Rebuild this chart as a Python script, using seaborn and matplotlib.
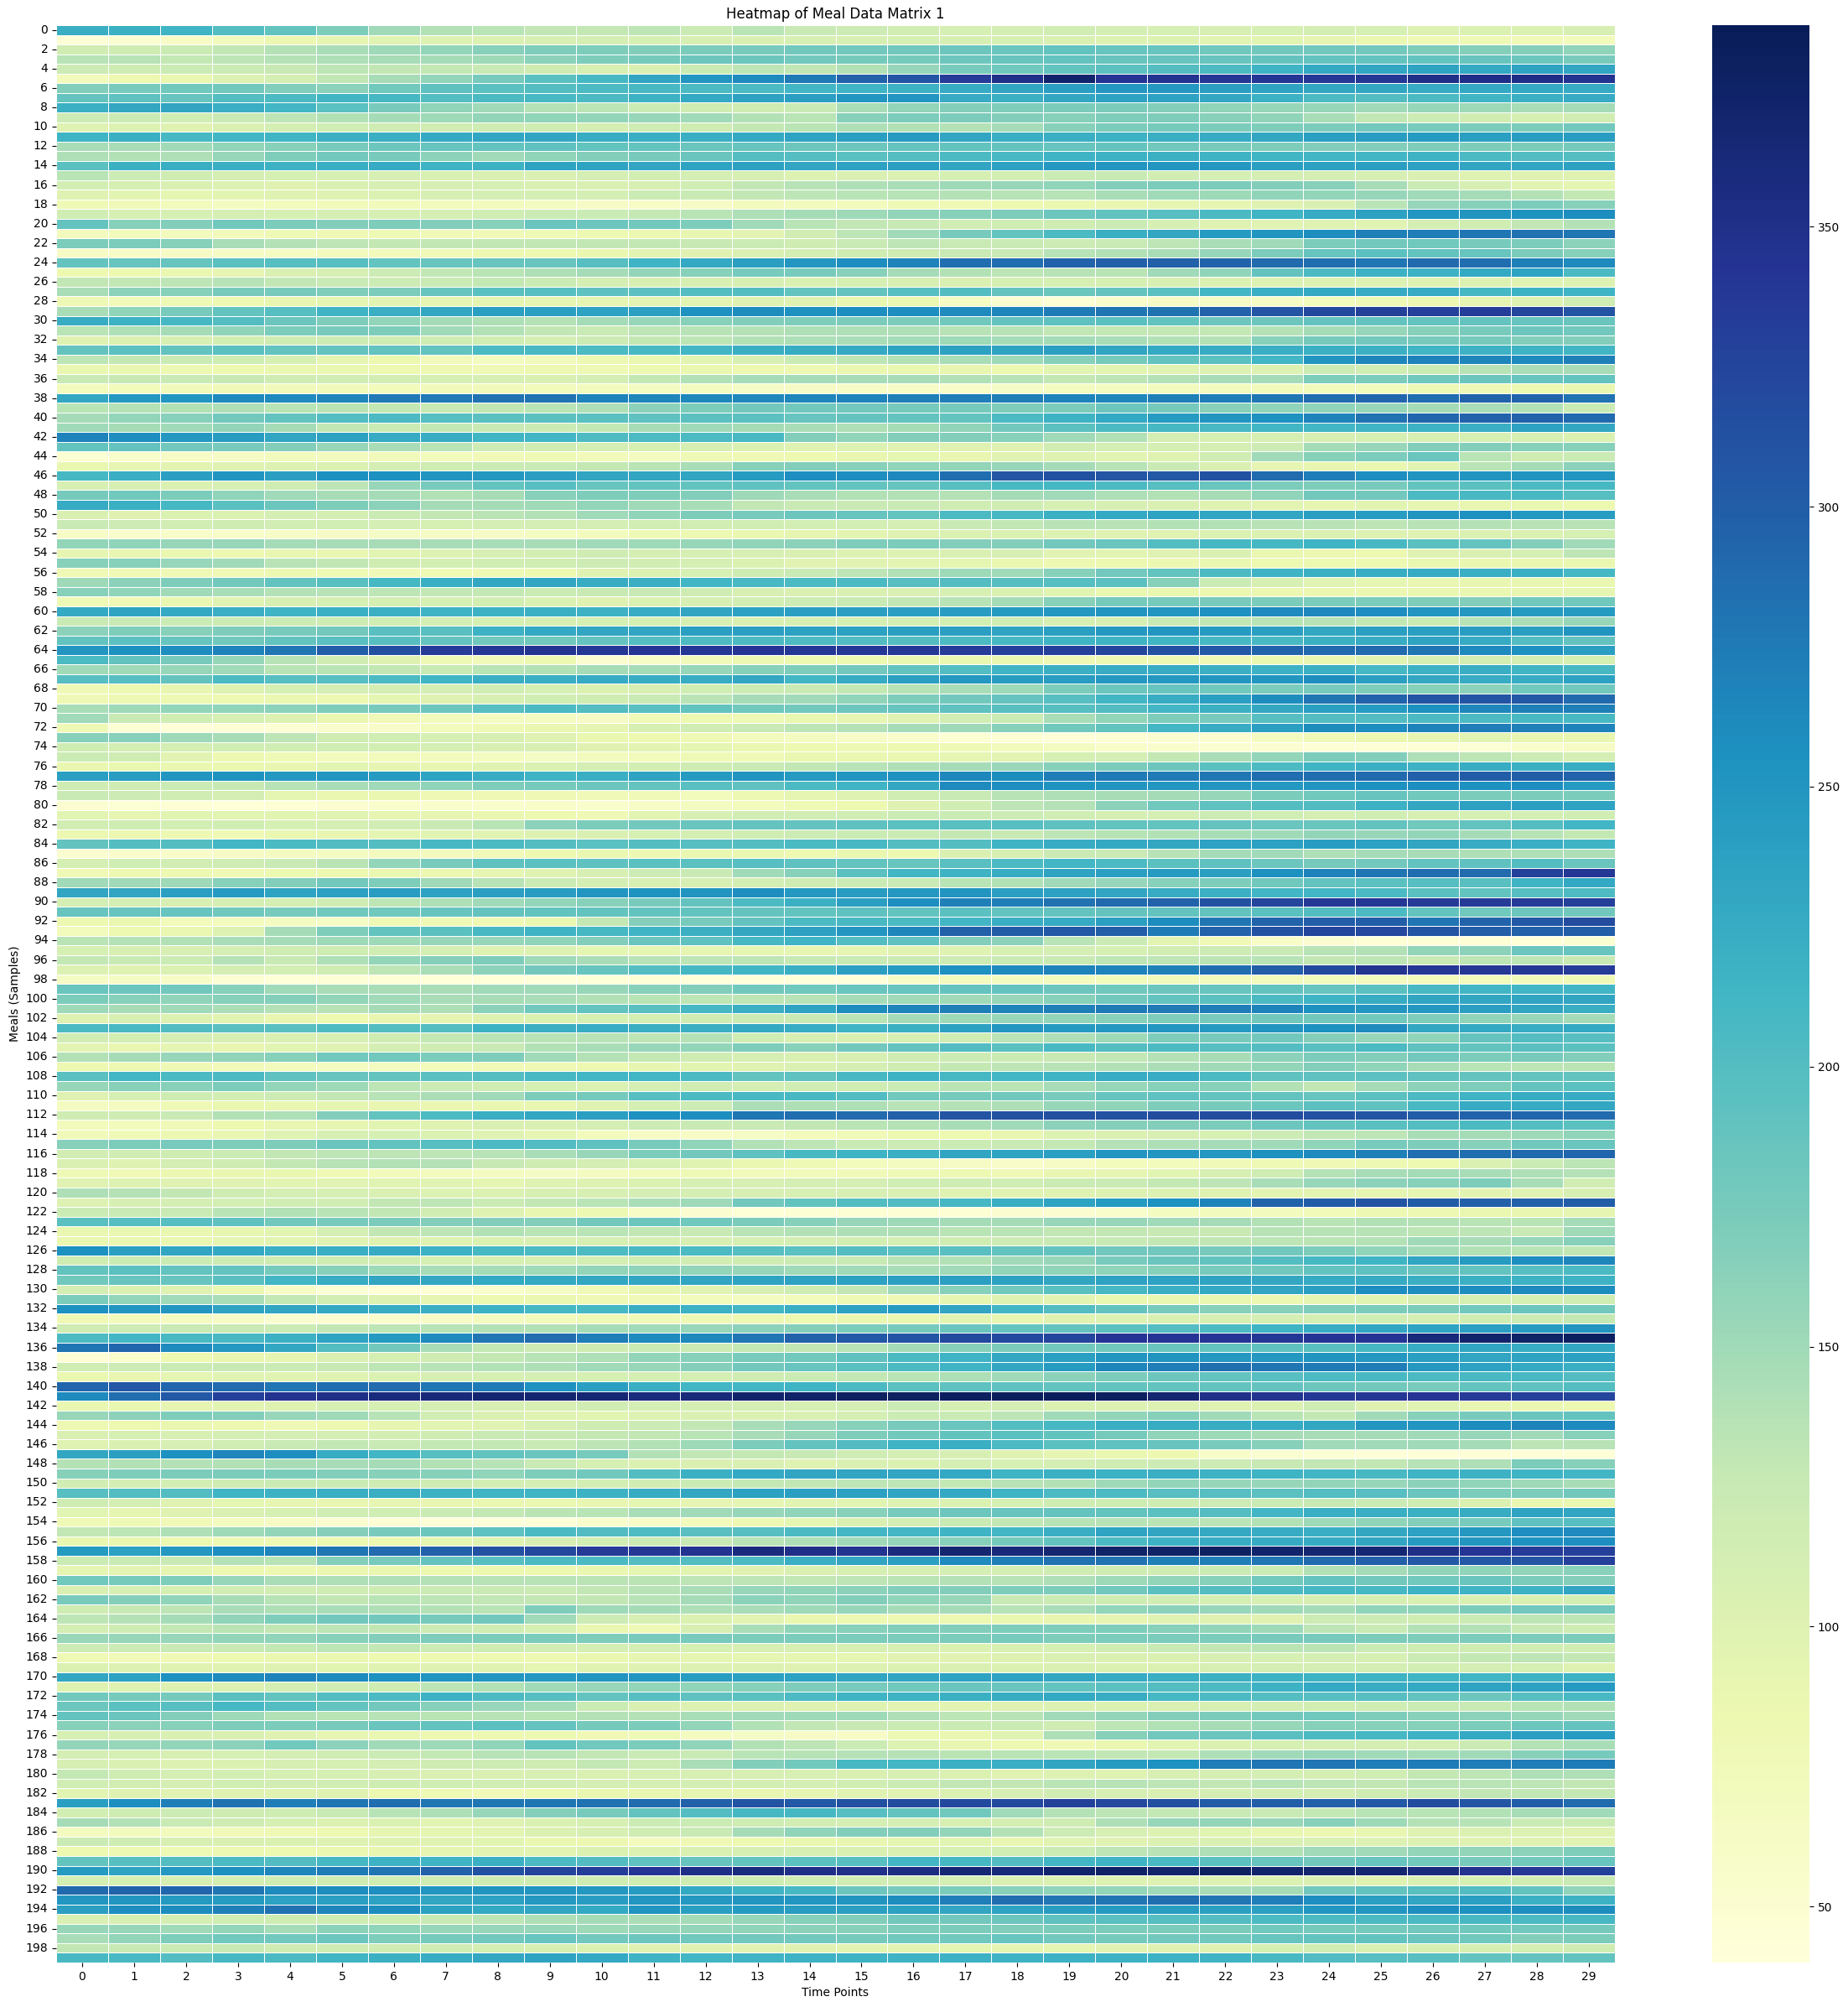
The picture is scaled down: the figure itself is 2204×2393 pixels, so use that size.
import matplotlib
matplotlib.use('Agg')
import matplotlib.pyplot as plt
import seaborn as sns
import numpy as np
import pandas as pd

# values, one block per 25 meals
meals_000 = [
    [222,220,215,200,190,170,150,140,135,130,128,132,122,135,125,120,115,110,112,115,112,110,108,110,112,110,103,104,104,108],
    [45,52,60,70,85,92,98,102,104,108,112,110,108,106,108,108,110,108,110,106,102,102,96,96,92,88,78,78,76,72],
    [115,118,122,130,138,145,152,158,165,170,170,168,172,175,178,178,178,182,185,190,186,186,180,178,178,178,170,166,166,160],
    [136,136,128,132,138,142,146,148,152,162,170,176,182,184,178,176,176,182,186,190,186,186,186,188,190,190,190,186,184,174],
    [120,118,122,122,126,132,130,128,124,118,108,106,122,132,130,140,155,175,180,190,194,200,205,215,228,232,235,228,235,233],
    [72,84,88,102,112,130,146,158,175,195,210,232,250,262,276,296,308,335,350,372,342,345,340,340,338,340,350,352,352,345],
    [168,175,180,178,168,162,180,192,195,200,205,208,206,206,212,215,218,226,232,240,248,248,240,234,230,230,226,228,228,226],
    [188,192,186,200,205,212,210,200,205,208,205,218,228,236,240,250,250,226,220,230,236,236,230,218,205,200,205,214,220,226],
    [220,230,232,222,212,195,175,160,150,138,132,122,118,118,125,145,158,168,170,172,172,168,160,155,155,150,155,152,145,148],
    [120,122,116,125,132,140,148,152,158,160,158,155,150,140,135,165,172,172,168,165,170,170,165,160,145,130,120,115,110,115],
    [100,102,100,105,112,116,118,115,118,118,112,118,118,128,135,142,140,138,148,165,172,176,172,170,172,178,175,172,172,178],
    [215,220,210,212,214,220,222,228,232,232,224,222,222,228,235,240,245,232,222,222,218,222,226,230,240,244,245,240,242,242],
    [145,145,150,158,165,175,182,186,190,192,190,190,185,186,182,182,188,190,188,186,188,178,175,170,168,168,170,170,172,176],
    [142,140,142,155,170,178,175,162,150,160,168,175,185,200,200,195,200,205,208,215,218,220,216,214,212,212,216,206,202,200],
    [195,220,222,222,218,222,226,215,218,235,234,232,234,238,232,236,240,232,238,248,250,250,248,240,238,240,238,232,232,238],
    [135,120,118,112,110,110,108,106,106,105,112,114,112,108,102,106,104,110,114,122,125,115,112,112,112,108,106,100,100,100],
    [114,110,106,102,100,106,108,108,110,106,106,108,116,130,136,142,145,152,155,160,168,172,172,168,165,146,122,108,96,94],
    [100,96,94,96,100,100,104,108,112,112,112,122,125,130,132,135,136,138,136,136,145,150,152,160,158,155,150,148,138,128],
    [78,76,72,68,72,74,74,70,70,68,62,60,62,70,70,72,78,80,84,88,90,92,92,100,105,135,155,165,172,165],
    [116,110,110,112,110,112,110,112,116,122,122,128,135,142,148,152,158,165,170,182,190,198,205,215,226,238,250,252,254,258],
    [190,165,168,178,172,168,170,168,165,185,182,178,170,150,135,130,126,115,118,118,122,110,100,98,100,98,112,118,130,138],
    [70,72,72,74,78,80,78,76,76,78,82,85,90,95,115,132,150,175,190,205,222,230,245,252,258,270,272,278,282,280],
    [172,172,165,145,138,132,128,130,130,130,130,128,126,122,118,125,132,125,125,120,125,132,145,150,172,178,180,175,172,162],
    [62,60,62,62,65,70,74,76,82,84,86,96,100,106,112,118,118,125,125,136,140,145,155,172,186,195,190,186,172,165],
    [188,186,186,195,198,198,190,186,186,186,198,215,228,240,250,258,268,285,285,296,298,298,295,290,285,280,290,285,270,262],
]
meals_025 = [
    [84,84,88,92,106,110,120,130,135,142,148,158,165,175,174,165,148,140,132,136,135,150,160,188,205,218,218,228,235,205],
    [130,130,132,136,130,124,120,125,128,122,112,108,108,108,106,110,108,106,110,110,110,108,104,102,102,102,100,102,98,102],
    [145,162,165,175,175,170,172,186,195,198,192,194,200,200,190,188,198,200,188,184,188,195,212,222,228,226,226,210,218,215],
    [78,75,78,82,90,94,96,92,92,92,92,96,96,100,100,88,85,65,52,48,56,62,64,64,72,78,85,92,100,116],
    [145,160,175,190,198,215,222,230,240,240,236,240,255,260,255,258,258,262,265,275,280,282,296,308,320,328,330,332,325,310],
    [225,218,210,200,182,170,158,148,142,138,148,155,165,168,170,172,172,180,188,192,195,190,182,182,188,190,190,188,186,185],
    [135,142,148,160,172,175,170,150,140,130,125,132,136,138,142,142,142,136,136,130,128,128,128,138,148,155,165,175,182,178],
    [100,104,108,114,118,120,118,118,116,112,120,128,132,140,142,145,148,152,148,148,145,140,138,165,176,178,174,176,168,168],
    [188,195,190,195,190,190,190,190,205,208,205,208,212,222,225,228,235,238,235,240,232,228,226,222,220,220,214,218,216,212],
    [132,128,122,118,110,92,84,74,68,74,82,88,96,108,122,132,140,145,152,165,176,190,195,212,250,265,268,265,262,270],
    [86,86,82,84,86,86,84,82,80,82,80,84,86,84,82,86,88,90,84,96,96,98,102,102,120,116,122,136,145,146],
    [124,126,124,126,118,116,114,110,108,106,112,128,140,148,148,146,146,140,136,128,132,138,146,148,170,172,180,182,186,190],
    [70,72,74,76,74,74,72,74,74,72,70,66,66,64,62,60,60,58,64,68,68,70,70,72,72,72,78,80,84,86],
    [230,248,250,262,262,266,276,276,282,282,268,265,264,264,265,268,270,272,272,268,265,270,272,278,286,292,286,295,296,282],
    [135,138,140,142,135,134,128,125,130,135,142,162,172,178,180,178,176,176,170,172,182,176,165,160,160,155,148,145,140,122],
    [148,158,165,178,190,200,205,198,195,195,195,192,195,195,186,188,190,190,205,216,228,245,252,256,268,282,292,296,296,290],
    [150,148,150,158,148,130,122,128,125,122,128,146,150,148,145,142,148,160,178,195,206,210,208,212,212,215,218,222,236,230],
    [268,258,248,244,232,238,226,224,214,212,204,206,205,208,168,160,168,168,165,150,140,112,110,110,108,110,108,110,108,104],
    [190,188,178,175,168,155,145,135,120,118,112,110,108,104,100,102,100,100,100,115,112,112,112,120,148,155,168,168,165,165],
    [47,55,60,62,70,70,74,72,76,78,74,68,78,78,84,90,94,90,98,100,96,100,118,150,165,172,185,135,118,122],
    [88,92,95,100,102,104,112,118,122,124,128,135,145,165,168,165,160,158,156,148,136,124,105,92,90,88,98,135,148,162],
    [210,222,240,252,240,256,255,252,248,240,232,232,232,245,258,258,264,285,308,312,308,306,312,288,272,258,252,252,252,250],
    [108,108,104,110,118,132,156,175,190,198,186,190,190,192,190,190,186,198,208,210,205,198,185,172,170,175,190,195,205,210],
    [176,180,172,160,150,146,148,140,146,165,170,170,168,152,145,140,140,138,148,150,142,140,146,160,178,178,205,208,208,198],
    [226,220,210,195,182,170,162,148,148,150,158,150,145,130,125,125,125,118,118,110,108,105,100,95,92,96,92,90,86,84],
]
meals_050 = [
    [105,100,104,104,112,112,122,130,134,140,150,160,170,175,182,186,190,205,210,220,228,235,232,232,240,242,252,255,248,242],
    [125,120,115,118,115,116,112,110,112,112,112,115,115,116,114,114,112,124,130,136,136,140,140,136,136,132,136,138,136,136],
    [60,55,58,58,60,62,64,62,62,66,70,78,82,86,92,95,100,104,104,102,100,100,104,104,104,102,100,104,104,110],
    [158,160,155,155,148,146,146,146,145,146,150,152,156,160,162,170,172,168,168,178,185,200,210,210,215,208,195,188,168,150],
    [92,90,88,84,90,90,96,102,108,114,118,112,110,108,106,102,102,105,108,98,96,100,106,88,85,84,100,105,110,132],
    [165,165,155,150,136,130,118,114,116,116,120,115,112,104,98,98,96,94,88,82,84,85,86,84,84,84,86,88,88,86],
    [80,80,80,80,82,78,76,78,80,84,100,104,110,118,125,132,140,152,150,165,178,190,205,216,220,225,226,222,222,210],
    [152,162,170,178,190,196,210,222,230,232,225,222,212,208,205,205,198,200,198,198,194,165,122,108,98,94,90,90,90,88],
    [165,160,150,145,138,136,132,130,128,122,126,126,118,108,106,106,106,108,104,96,86,86,85,85,85,85,86,86,90,92],
    [78,80,88,98,108,110,112,110,114,104,100,104,108,114,120,124,130,136,148,165,176,176,175,172,172,172,170,168,180,180],
    [228,234,228,222,215,220,220,215,218,220,218,225,232,238,240,240,240,242,245,248,252,250,255,262,264,258,250,248,245,245],
    [125,125,122,120,120,118,116,112,110,108,110,110,108,106,108,110,112,114,116,108,108,125,130,135,136,128,122,136,144,156],
    [162,170,165,170,175,178,196,196,218,228,232,232,240,240,238,238,240,240,234,240,248,250,245,240,230,240,240,242,240,252],
    [190,194,186,180,190,196,198,188,180,180,188,200,204,205,204,202,200,205,210,215,216,214,210,208,220,225,235,226,200,188],
    [250,256,258,268,278,300,315,335,340,345,340,342,340,342,340,340,338,335,330,330,325,312,305,295,290,290,280,262,255,240],
    [205,190,175,155,136,115,100,78,74,84,50,62,74,82,84,84,86,88,86,80,82,82,80,86,90,98,108,112,112,110],
    [150,150,155,150,135,135,130,125,135,140,148,148,155,165,170,178,190,200,215,220,224,225,220,218,220,210,218,222,214,208],
    [198,198,188,205,198,198,205,214,222,222,226,225,225,230,212,226,240,248,242,244,248,248,250,250,258,240,230,224,224,236],
    [80,84,90,100,110,112,112,112,116,110,104,108,116,120,125,128,136,145,152,172,184,186,180,172,175,170,165,162,180,178],
    [80,82,82,84,88,84,94,100,108,116,118,125,135,148,150,160,170,178,188,198,212,225,240,260,280,296,310,310,306,290],
    [145,152,158,160,162,170,175,182,198,205,200,196,190,180,178,182,186,192,196,198,202,212,220,230,240,245,255,265,270,270],
    [150,125,116,110,102,88,76,70,66,66,62,76,84,78,88,92,100,116,122,145,158,170,175,198,200,202,205,205,208,208],
    [78,48,44,46,48,56,58,72,80,86,92,108,115,125,132,138,148,152,165,180,190,212,225,240,260,258,268,272,270,268],
    [165,165,152,146,132,118,116,110,108,100,88,84,80,70,66,60,56,48,48,44,48,52,50,68,76,85,92,96,90,90],
    [118,112,112,116,116,116,114,112,108,108,100,96,94,88,84,82,84,78,72,66,58,54,52,50,46,46,46,48,56,62],
]
meals_075 = [
    [122,118,98,84,78,70,72,70,66,64,70,72,78,80,86,86,86,92,96,110,112,128,145,158,172,168,142,132,120,112],
    [88,88,88,88,90,96,92,90,98,104,112,114,118,124,130,136,142,148,154,165,172,182,195,205,215,222,218,225,220,225],
    [240,244,250,254,248,250,245,235,225,215,222,235,245,252,246,250,256,264,260,272,276,276,278,285,285,290,298,302,300,296],
    [118,118,122,126,136,145,150,160,170,176,182,190,196,192,205,215,230,262,258,254,252,250,250,248,252,256,258,256,258,245],
    [124,120,116,112,94,88,86,80,80,80,76,76,72,82,92,100,116,124,136,142,146,148,155,172,180,186,180,172,172,172],
    [50,48,46,44,46,50,56,56,56,58,54,60,66,72,78,84,100,116,132,138,162,180,192,200,202,218,230,238,240,235],
    [96,92,96,96,96,98,92,92,86,84,80,96,108,115,115,116,122,122,120,116,112,112,120,116,112,116,108,110,112,116],
    [115,118,114,116,110,112,115,124,135,162,172,178,185,188,188,192,195,196,198,192,190,190,188,185,185,190,180,190,200,212],
    [85,85,82,80,88,90,94,96,96,102,106,110,112,116,120,122,122,128,125,132,136,140,145,150,158,155,158,148,136,128],
    [190,200,200,212,205,202,200,208,205,200,195,200,198,200,205,208,200,200,215,225,228,230,236,238,242,238,232,225,222,215],
    [52,55,58,62,66,68,70,70,76,84,88,82,86,88,84,86,84,106,108,124,124,136,148,150,142,148,146,142,142,142],
    [112,116,115,118,124,134,158,175,192,195,192,195,195,198,192,190,186,196,205,212,205,195,192,182,176,178,190,192,200,185],
    [80,82,84,80,84,84,86,85,92,100,108,120,125,150,165,195,212,216,225,235,240,245,240,255,268,280,285,288,328,340],
    [150,150,152,165,168,178,170,150,136,122,112,108,108,112,118,122,124,135,140,150,155,165,170,180,190,195,198,196,215,228],
    [232,232,240,245,235,238,244,236,240,244,250,254,252,258,248,244,248,252,240,238,232,225,220,212,212,205,195,190,198,204],
    [112,112,108,112,112,118,132,142,150,158,165,175,188,205,220,240,258,270,272,282,290,296,312,325,338,340,335,335,335,330],
    [186,186,186,180,175,180,180,186,188,190,190,190,190,188,190,192,190,195,190,190,188,190,190,195,200,205,190,180,182,178],
    [84,88,72,70,68,64,80,80,80,88,128,166,175,188,205,208,205,212,222,226,240,260,278,295,300,300,280,295,305,318],
    [72,84,88,102,148,170,190,195,208,215,210,215,220,230,238,250,265,298,302,306,300,275,296,312,325,322,310,300,298,300],
    [135,138,140,145,148,152,152,155,155,160,168,185,192,210,215,200,192,168,162,135,122,96,76,58,50,46,46,46,44,52],
    [110,108,108,112,118,118,116,112,100,102,94,94,92,94,92,92,98,100,110,112,110,115,120,125,136,140,158,162,182,186],
    [128,125,122,138,126,142,158,166,170,152,145,136,132,132,126,124,122,120,124,126,132,132,134,136,130,132,124,132,132,126],
    [102,100,104,112,114,118,132,145,162,178,186,200,210,212,222,240,245,255,262,268,268,270,285,300,320,345,340,340,340,335],
    [64,64,60,48,44,46,46,44,44,42,44,46,42,42,42,42,60,70,66,70,72,74,72,72,72,70,72,72,75,78],
    [185,182,178,165,150,145,145,145,150,150,155,165,168,178,180,185,186,188,188,182,180,182,186,190,186,195,208,212,212,212],
]
meals_100 = [
    [172,165,160,165,166,158,150,145,146,145,140,135,132,132,136,148,150,150,155,165,178,190,195,205,215,225,232,230,232,232],
    [152,146,150,144,138,136,148,142,162,180,190,196,210,222,235,260,266,270,266,270,275,276,272,268,255,250,248,240,232,222],
    [100,108,102,96,90,84,90,92,100,104,110,112,118,122,124,135,148,152,155,158,165,170,175,178,178,180,170,160,155,148],
    [205,208,202,196,196,204,200,200,218,222,225,222,222,228,225,215,220,238,250,246,248,250,246,252,255,262,230,228,225,228],
    [115,114,112,108,106,110,118,128,135,136,136,132,138,116,108,105,108,118,135,142,152,170,175,178,166,156,160,188,200,198],
    [95,90,94,90,96,100,112,118,124,140,145,155,158,170,165,178,190,202,195,208,200,205,198,200,196,206,192,190,196,195],
    [140,148,155,160,165,178,178,172,170,150,138,128,118,108,105,108,118,120,122,126,130,138,146,162,172,168,178,172,175,168],
    [84,82,78,74,70,68,66,72,76,80,84,92,96,100,106,112,118,128,132,136,140,144,150,158,168,160,146,135,132,134],
    [195,212,205,205,192,186,190,195,200,210,212,212,205,190,192,208,216,210,212,215,225,225,205,192,192,194,192,188,190,190],
    [155,165,165,172,158,152,132,120,118,110,104,112,115,112,116,118,122,134,134,146,156,165,165,140,130,148,162,170,188,195],
    [100,110,118,114,120,130,136,144,150,172,176,198,206,208,208,202,180,176,178,175,186,192,190,190,186,195,205,215,225,225],
    [68,68,78,86,88,94,90,86,86,90,100,112,120,144,142,142,136,138,142,156,160,170,175,184,194,192,208,226,226,230],
    [118,118,124,140,142,168,190,205,222,230,240,255,258,280,285,290,298,310,312,315,312,318,318,318,312,310,300,296,292,288],
    [72,72,76,84,90,92,96,100,106,106,112,120,124,124,130,135,138,145,150,162,166,168,172,182,190,196,200,205,200,195],
    [76,78,85,90,100,108,110,104,100,92,72,62,60,64,72,76,84,84,90,102,106,108,110,120,130,132,145,148,152,160],
    [165,172,175,170,170,185,190,198,205,202,192,175,160,140,132,125,120,122,124,128,138,142,148,150,160,175,170,165,180,185],
    [115,115,118,122,130,132,132,132,136,145,155,172,178,192,208,215,222,232,235,240,250,250,248,256,262,270,285,285,290,292],
    [106,100,112,118,128,136,140,138,126,118,112,110,98,88,78,70,68,62,58,62,70,72,76,78,80,82,84,105,122,132],
    [78,80,85,88,88,78,74,70,68,64,68,72,78,74,74,76,78,82,80,90,92,96,108,118,138,146,148,145,142,138],
    [100,102,100,100,96,98,98,98,94,100,100,104,108,108,112,112,116,118,116,122,122,128,132,145,155,162,165,170,145,115],
    [142,138,130,118,112,110,106,102,104,108,108,112,112,108,108,108,106,100,98,100,102,102,100,95,95,92,92,95,98,108],
    [102,108,112,112,116,116,130,132,122,130,135,145,152,178,190,200,202,210,222,235,245,255,268,295,302,310,302,298,298,300],
    [122,124,124,135,140,135,130,115,100,90,82,60,50,44,46,46,46,46,50,50,56,66,70,70,75,82,82,88,90,92],
    [195,198,198,192,178,175,172,168,168,168,178,182,180,172,165,155,152,148,148,155,156,150,148,140,135,140,138,135,135,148],
    [88,88,88,90,96,112,130,132,140,135,135,130,125,135,140,142,142,135,135,130,130,126,126,136,136,136,132,132,125,150],
]
meals_125 = [
    [88,88,86,92,95,98,100,100,104,106,110,108,108,108,112,114,112,118,120,125,125,128,130,132,134,138,150,146,155,165],
    [255,240,232,228,222,222,226,218,210,205,204,208,205,198,195,200,195,196,190,188,178,178,175,178,170,160,148,140,135,130],
    [118,122,122,120,118,118,114,110,108,108,112,116,115,118,122,125,135,140,150,155,175,185,190,200,210,215,232,245,258,265],
    [190,195,190,190,176,165,152,146,148,150,158,160,158,155,150,150,145,150,158,160,160,165,175,178,190,192,185,190,198,205],
    [180,186,186,196,212,225,232,230,228,228,230,232,232,234,236,238,240,240,238,232,236,236,234,230,226,226,222,220,218,216],
    [112,104,100,86,60,48,44,44,56,64,76,90,98,108,118,130,150,165,180,195,210,222,228,232,240,258,258,258,262,260],
    [172,158,150,145,128,114,102,92,84,88,80,76,72,68,72,78,80,92,100,95,88,86,88,85,92,96,108,110,110,116],
    [255,250,250,234,232,228,225,222,218,210,210,222,218,212,222,236,245,232,212,200,188,175,165,165,170,172,172,180,185,180],
    [80,72,66,60,52,50,54,60,66,72,78,76,78,82,84,86,88,96,90,100,102,106,108,112,112,116,112,118,120,128],
    [118,120,125,125,122,130,132,136,140,140,148,150,156,162,166,172,176,185,190,190,195,200,205,215,225,232,235,240,245,252],
    [205,212,208,208,220,235,246,262,278,286,272,262,264,280,296,305,310,320,320,325,342,342,342,340,342,342,362,372,375,380],
    [280,292,262,248,230,200,178,145,128,120,118,122,122,128,130,136,148,165,172,178,180,185,190,192,196,210,225,232,225,230],
    [46,56,84,90,92,105,110,118,128,136,142,158,165,175,180,192,205,215,230,240,250,252,248,248,252,248,240,232,235,238],
    [116,120,122,126,122,126,132,136,140,142,150,155,166,178,186,196,205,215,230,245,265,272,284,280,275,272,248,236,228,222],
    [88,90,94,98,98,100,104,108,110,112,110,112,112,118,122,130,135,142,150,162,172,182,190,198,205,208,205,208,208,202],
    [292,305,292,288,280,285,288,280,275,255,240,222,212,212,215,205,195,192,192,190,190,190,190,188,182,178,175,190,192,200],
    [262,285,305,330,345,352,360,362,368,368,366,360,362,372,374,378,378,380,382,382,380,368,350,345,340,340,342,335,330,325],
    [88,86,92,96,100,110,110,112,108,108,115,112,112,112,110,112,122,110,112,104,102,102,100,104,118,100,98,90,88,84],
    [155,162,170,168,155,150,136,116,106,100,96,102,105,104,106,112,122,125,132,150,158,165,150,135,128,150,165,175,185,190],
    [82,84,88,84,80,84,92,96,98,108,118,120,130,145,155,165,175,185,200,210,222,225,225,226,230,250,250,260,268,262],
    [105,110,108,112,112,112,114,118,124,126,128,130,135,145,155,170,180,190,195,190,176,160,152,146,145,148,150,155,150,165],
    [100,106,108,116,125,130,125,128,128,125,132,140,152,172,190,202,216,222,205,195,192,186,175,165,150,150,150,148,132,136],
    [230,240,256,265,258,225,212,198,190,185,175,140,130,128,126,118,112,108,100,92,86,84,58,52,48,44,44,44,44,44],
    [138,140,138,140,146,146,148,140,136,125,110,104,105,106,100,106,104,112,110,112,118,120,120,126,130,130,136,142,172,165],
    [165,170,172,172,172,168,165,165,160,170,180,200,220,228,232,232,232,228,215,220,218,222,218,215,212,208,215,218,215,212],
]
meals_150 = [
    [115,112,114,118,122,122,118,118,114,112,114,115,122,128,130,132,132,128,136,140,152,158,155,155,158,155,162,160,152,145],
    [198,200,200,215,218,222,222,218,215,215,218,225,230,238,240,238,232,228,215,205,205,198,198,195,200,198,185,172,172,178],
    [118,112,100,94,92,90,92,90,86,86,90,94,92,92,96,96,100,104,110,118,118,118,120,122,126,122,118,104,88,88],
    [96,92,100,106,110,116,116,122,128,134,135,145,150,155,160,165,175,182,186,188,190,195,200,212,222,222,220,225,235,232],
    [78,78,76,68,62,50,46,44,42,44,55,60,72,82,94,105,112,124,130,136,136,135,135,140,152,160,168,175,192,198],
    [130,132,142,152,158,166,175,182,192,205,202,204,196,198,205,212,212,215,212,222,235,232,228,225,222,230,238,248,258,262],
    [88,88,84,78,80,84,84,92,98,108,114,120,125,135,142,150,158,165,176,190,205,218,225,226,226,232,245,250,256,258],
    [245,238,248,258,268,280,288,298,312,322,335,340,345,358,352,345,358,368,362,368,375,374,378,372,368,366,352,342,335,330],
    [122,125,125,138,136,166,175,188,198,205,205,200,200,205,222,232,240,262,272,282,282,270,272,280,290,298,305,306,308,330],
    [92,96,92,84,82,85,86,84,84,84,88,94,96,100,106,108,108,112,112,118,118,118,122,122,140,148,158,160,158,164],
    [180,176,170,155,145,142,142,138,136,136,134,134,132,132,130,132,134,138,136,142,152,158,165,180,190,178,180,185,172,166],
    [105,108,110,115,115,118,118,122,124,122,130,136,145,155,160,162,168,168,170,172,180,195,200,206,210,210,216,215,218,232],
    [175,166,160,146,136,130,135,132,130,130,130,136,148,162,160,168,160,155,125,122,118,115,112,108,108,108,106,106,106,112],
    [118,126,132,145,142,145,142,138,135,170,152,148,142,145,152,155,148,148,136,145,158,162,155,150,148,160,160,172,178,178],
    [132,138,148,160,170,178,178,176,178,150,120,108,104,96,88,82,82,82,86,90,92,98,100,100,120,120,116,122,132,132],
    [112,118,128,134,130,132,130,120,116,110,88,78,108,145,160,165,168,168,170,170,170,165,158,152,132,125,140,140,126,118],
    [154,156,156,158,160,165,168,170,172,172,170,175,175,172,172,172,172,172,175,170,172,172,172,175,175,172,170,172,172,172],
    [120,120,125,124,128,132,128,120,118,115,112,112,110,108,108,108,108,104,106,110,118,124,130,134,134,122,118,118,116,116],
    [78,76,80,84,88,86,84,82,82,82,86,92,92,94,94,94,98,98,102,106,106,106,108,110,112,110,122,128,132,128],
    [104,102,98,98,100,96,98,100,98,94,98,100,102,102,100,102,104,106,104,106,104,104,108,112,112,112,114,112,110,100],
    [230,236,255,262,268,262,256,252,250,248,252,250,242,238,236,232,232,235,235,230,226,222,220,218,216,216,214,212,216,218],
    [100,100,102,102,112,116,118,132,140,150,155,158,160,165,170,175,180,185,185,190,195,200,205,218,228,225,228,235,238,246],
    [180,176,176,195,190,200,206,218,205,198,190,198,192,195,205,215,216,220,225,228,225,210,205,200,198,198,190,182,198,208],
    [182,195,198,210,200,190,178,165,155,148,122,106,102,102,100,100,96,96,100,102,104,106,108,112,114,116,122,125,135,140],
    [190,185,168,152,140,135,136,135,136,135,138,138,145,150,152,152,142,132,136,150,158,168,172,178,180,170,165,162,155,150],
]
meals_175 = [
    [165,162,165,170,172,175,185,190,195,188,176,172,158,140,130,126,122,122,122,118,132,140,146,155,165,165,165,172,182,188],
    [110,108,106,106,100,92,86,84,84,82,80,78,66,64,62,60,82,86,98,142,165,178,185,196,205,210,218,228,240,245],
    [158,155,158,162,180,162,150,152,160,190,180,172,160,140,132,122,102,90,84,80,88,96,104,110,112,112,112,122,138,145],
    [112,110,108,110,112,118,122,128,136,136,130,124,125,135,136,138,138,134,135,135,130,128,142,150,155,150,148,150,165,176],
    [108,105,102,104,108,110,112,118,120,118,128,120,145,168,178,208,212,220,222,232,245,256,272,280,278,272,275,272,272,275],
    [128,118,112,114,110,110,108,106,106,108,105,108,108,108,108,106,108,104,100,102,100,108,112,112,112,116,128,132,142,142],
    [116,115,112,116,115,116,118,116,116,115,112,112,114,114,112,116,122,130,130,135,136,132,130,136,132,130,135,135,132,130],
    [96,100,98,100,100,100,84,78,76,82,86,90,92,90,92,98,98,104,108,115,108,106,112,112,112,118,122,130,130,128],
    [240,258,272,282,272,280,285,280,278,278,282,288,298,310,305,312,318,320,320,328,322,315,302,300,298,305,318,308,300,288],
    [114,118,120,118,118,126,136,142,155,166,175,190,200,210,210,198,190,180,150,138,132,128,125,125,128,135,135,140,146,150],
    [148,140,125,118,110,104,104,96,100,104,108,122,122,118,115,112,112,108,112,118,142,155,158,155,165,152,138,136,122,122],
    [68,70,72,76,80,84,92,94,96,104,108,118,125,148,160,168,168,158,138,120,108,102,96,90,85,90,100,104,102,100],
    [122,118,108,106,104,102,100,98,96,88,85,70,80,84,88,90,94,96,90,98,100,104,106,106,106,102,102,100,100,98],
    [84,82,78,82,84,86,90,92,96,96,104,102,106,108,108,106,106,110,116,122,132,136,142,140,150,150,158,158,162,170],
    [190,198,200,205,202,210,218,215,220,205,202,192,186,190,195,198,212,210,202,212,216,208,195,186,178,186,180,175,180,186],
    [245,234,248,255,265,275,278,296,312,326,332,342,352,360,352,350,356,366,362,372,376,372,378,372,370,368,360,345,338,328],
    [112,110,108,112,116,118,116,118,118,118,118,118,118,118,116,115,116,112,106,104,102,102,102,104,106,100,106,110,115,125],
    [290,295,292,280,262,260,258,250,252,252,248,245,228,215,208,182,175,172,165,160,158,150,145,148,178,190,196,200,190,160],
    [250,252,246,245,238,240,238,232,238,248,242,250,248,252,250,252,260,272,285,278,280,285,278,272,258,240,232,240,220,218],
    [240,258,260,270,282,266,260,238,228,232,228,252,240,245,244,240,238,232,236,242,246,244,240,240,250,250,258,255,258,260],
    [105,108,112,116,118,118,118,124,132,142,148,144,148,155,165,168,178,178,182,192,196,198,200,205,205,205,205,208,206,208],
    [155,156,150,158,148,162,160,156,156,155,152,156,158,160,162,165,170,172,168,172,172,172,172,180,176,176,178,180,178,176],
    [145,158,170,180,178,182,170,176,178,186,178,182,180,178,178,176,180,180,186,178,176,178,180,186,190,190,185,180,168,172],
    [130,125,122,125,118,118,118,116,112,108,104,100,100,98,100,96,96,94,92,94,98,100,100,110,115,105,108,108,112,118],
    [208,208,200,210,205,214,220,225,230,234,228,215,212,215,218,216,215,218,216,218,218,218,215,208,202,198,196,190,188,190],
]

rows = meals_000 + meals_025 + meals_050 + meals_075 + meals_100 + meals_125 + meals_150 + meals_175
bad = [i for i, r in enumerate(rows) if len(r) != 30]
if bad:
    raise ValueError(f'rows without 30 values: {bad}')
data = pd.DataFrame(rows)

W, H = 2204, 2393
fig = plt.figure(figsize=(W / 100, H / 100), dpi=100)
ax = fig.add_axes([67 / W, (H - 2340) / H, 1859 / W, 2310 / H])
cax = fig.add_axes([2042 / W, (H - 2340) / H, 116 / W, 2310 / H])

sns.heatmap(data, cmap='YlGnBu', linewidths=0.5, vmin=40, vmax=386, yticklabels=2, ax=ax, cbar_ax=cax)
ax.tick_params(axis='y', labelrotation=0)
ax.set_title('Heatmap of Meal Data Matrix 1')
ax.set_xlabel('Time Points')
ax.set_ylabel('Meals (Samples)')

fig.savefig('out.png', dpi=100)
